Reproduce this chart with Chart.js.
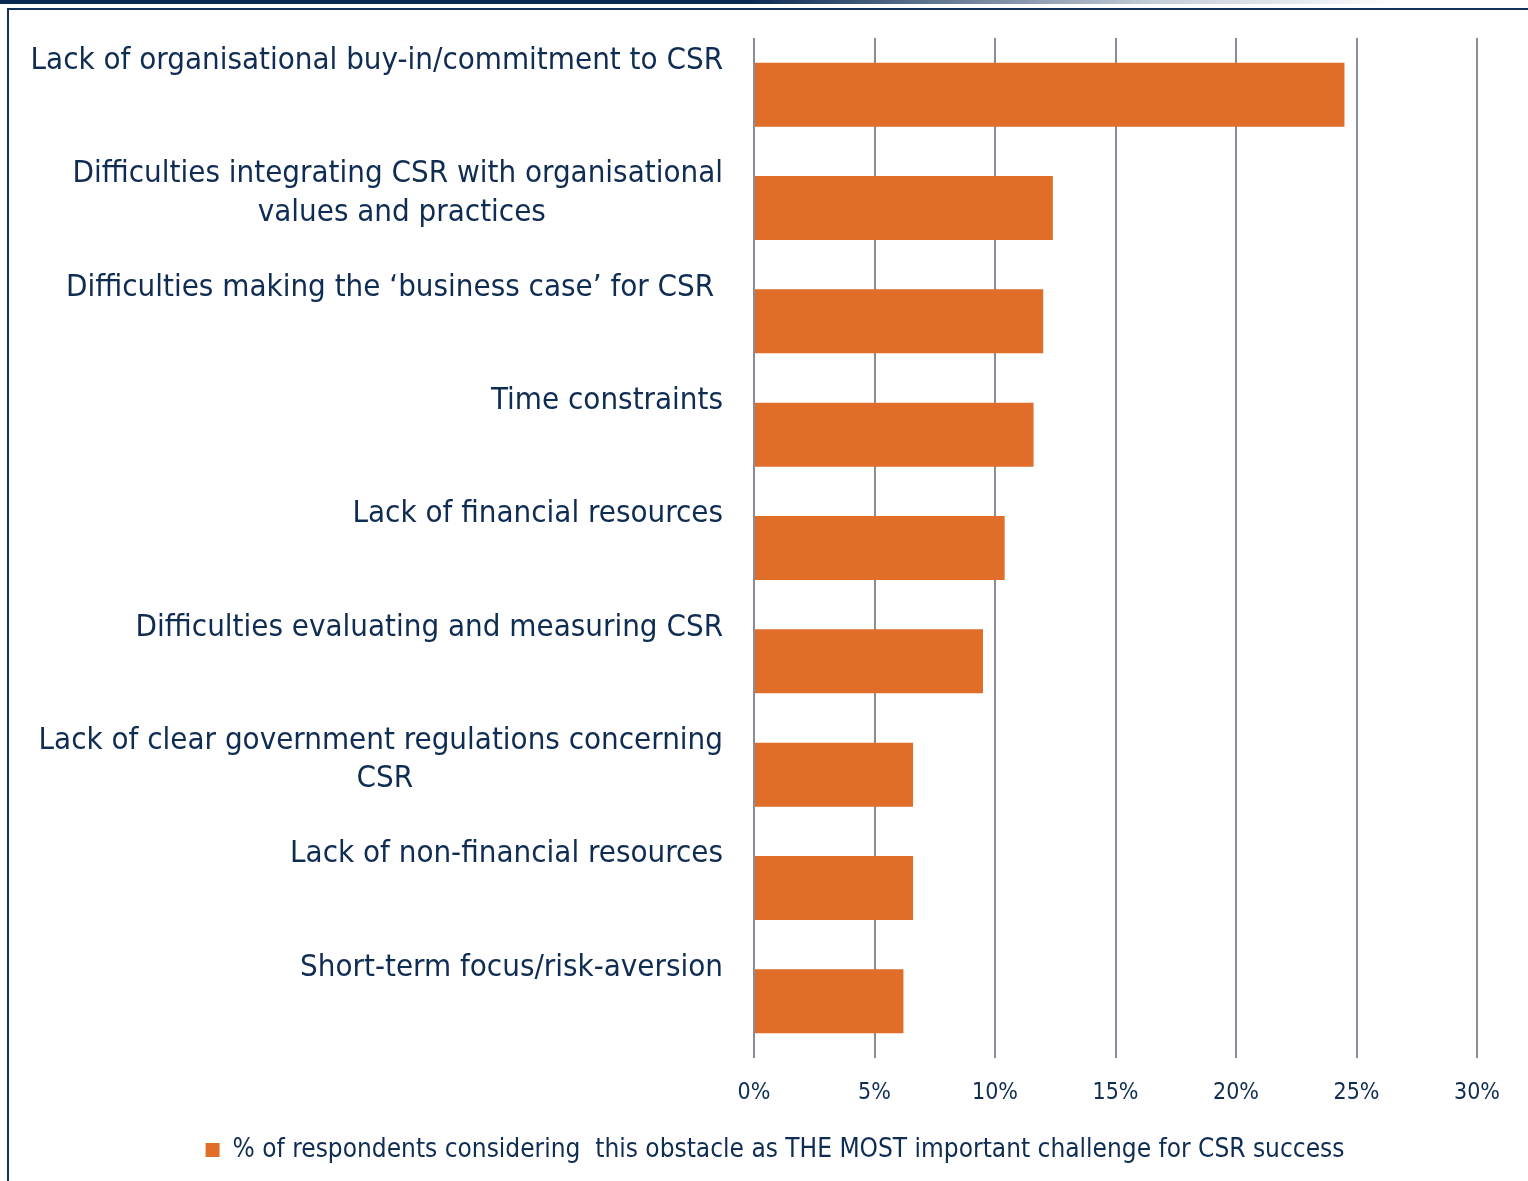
<!DOCTYPE html>
<html>
<head>
<meta charset="utf-8">
<script src="https://cdn.jsdelivr.net/npm/chart.js@4"></script>
<style>
  html, body { margin: 0; padding: 0; background: #ffffff; }
  body { width: 1528px; height: 1181px; position: relative; overflow: hidden; }
  #topband { position: absolute; left: 0; top: 0; width: 1528px; height: 4px;
    background: linear-gradient(to right, #0b2a52 0px, #0b2a52 750px, #c3ccd7 1150px, #ffffff 1400px); }
  #topline { position: absolute; left: 7px; top: 8px; width: 1521px; height: 2px; background: #12325a; }
  #leftline { position: absolute; left: 7px; top: 8px; width: 2px; height: 1173px; background: #12325a; }
  #wrap { position: absolute; left: 0; top: 0; width: 1528px; height: 1181px; }
  canvas { display: block; }
</style>
</head>
<body>
<div id="topband"></div>
<div id="topline"></div>
<div id="leftline"></div>
<div id="wrap"><canvas id="c" width="1528" height="1181" style="width:1528px;height:1181px"></canvas></div>
<script>
const categories = [
  ["Lack of organisational buy-in/commitment to CSR"],
  ["Difficulties integrating CSR with organisational", "values and practices"],
  ["Difficulties making the \u2018business case\u2019 for CSR "],
  ["Time constraints"],
  ["Lack of financial resources"],
  ["Difficulties evaluating and measuring CSR"],
  ["Lack of clear government regulations concerning", "CSR"],
  ["Lack of non-financial resources"],
  ["Short-term focus/risk-aversion"]
];
const values = [24.5, 12.4, 12.0, 11.6, 10.4, 9.5, 6.6, 6.6, 6.2];
const seriesLabel = "% of respondents considering  this obstacle as THE MOST important challenge for CSR success";
const xTicks = [0, 5, 10, 15, 20, 25, 30];

const navy = '#0f2c52';
const orange = '#e06d28';
const gridGray = '#898c98';
const labelFamily = "'DejaVu Sans Condensed', 'DejaVu Sans', sans-serif";
const labelSize = 31;

// measure helper: centre the lines of a wrapped label inside its right-aligned block
const mctx = document.createElement('canvas').getContext('2d');
mctx.font = labelSize + 'px ' + labelFamily;
function formatLabel(lines) {
  const widths = lines.map(l => mctx.measureText(l).width);
  const wMax = Math.max(...widths);
  const sp = mctx.measureText(' ').width;
  const out = lines.map((l, i) => l + ' '.repeat(Math.max(0, Math.round((wMax - widths[i]) / 2 / sp))));
  while (out.length < 2) out.push('');
  return out;
}

// let y-axis labels extend left of the axis box (avoid label clipping)
const labelRoom = {
  id: 'labelRoom',
  afterLayout(chart) { chart.scales.y.left = 0; }
};

new Chart(document.getElementById('c'), {
  type: 'bar',
  plugins: [labelRoom],
  data: {
    labels: categories,
    datasets: [{
      label: seriesLabel,
      data: values,
      backgroundColor: orange,
      borderWidth: 0,
      categoryPercentage: 1.0,
      barPercentage: 0.565
    }]
  },
  options: {
    indexAxis: 'y',
    responsive: false,
    animation: false,
    devicePixelRatio: 1,
    layout: { padding: { left: 73, right: 51, top: 38, bottom: 8 } },
    plugins: {
      tooltip: { enabled: false },
      legend: {
        display: true,
        position: 'bottom',
        labels: {
          boxWidth: 14,
          boxHeight: 14,
          padding: 10,
          color: navy,
          font: { family: labelFamily, size: 26 }
        }
      }
    },
    scales: {
      x: {
        type: 'linear',
        min: 0,
        max: 30,
        afterBuildTicks: (scale) => { scale.ticks = xTicks.map(v => ({ value: v })); },
        afterFit: (scale) => { scale.height = 69; scale.paddingLeft = 0; scale.paddingRight = 0; },
        grid: { color: gridGray, lineWidth: 2, drawTicks: false },
        border: { display: false },
        ticks: {
          padding: 21,
          color: navy,
          font: { family: "'Liberation Sans Narrow', 'DejaVu Sans Condensed', sans-serif", size: 23 },
          callback: (v) => v + '%'
        }
      },
      y: {
        afterFit: (scale) => { scale.width = 754 - 73; scale.paddingTop = 0; scale.paddingBottom = 0; },
        grid: { display: false, drawTicks: false },
        border: { display: false },
        ticks: {
          padding: 31,
          labelOffset: -14.5,
          color: navy,
          autoSkip: false,
          font: { family: labelFamily, size: labelSize, lineHeight: 1.23 },
          callback: function (value) { return formatLabel(this.getLabelForValue(value)); }
        }
      }
    }
  }
});
</script>
</body>
</html>
